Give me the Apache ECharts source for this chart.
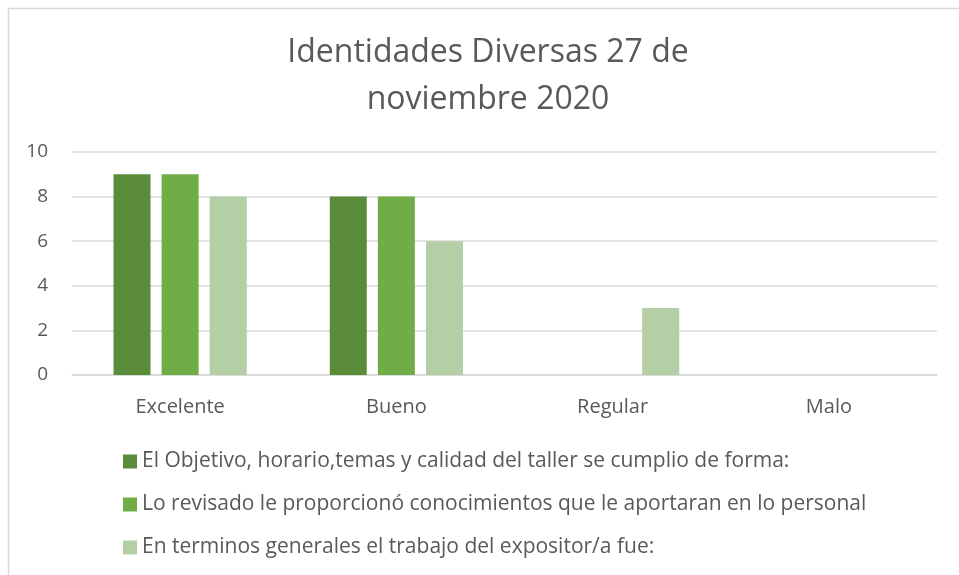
<!DOCTYPE html>
<html>
<head>
<meta charset="utf-8">
<script src="https://cdn.jsdelivr.net/npm/echarts@6/dist/echarts.min.js"></script>
<style>
  html, body { margin: 0; padding: 0; background: #fff; }
  #chart { width: 959px; height: 575px; }
</style>
</head>
<body>
<div id="chart"></div>
<script>
// datos
var categories = ['Excelente', 'Bueno', 'Regular', 'Malo']
var seriesNames = [
  'El Objetivo, horario,temas y calidad del taller se cumplio de forma:',
  'Lo revisado le proporcionó conocimientos que le aportaran en lo personal',
  'En terminos generales el trabajo del expositor/a fue:'
]
var objetivo = [9, 8, 0, 0]
var revisado = [9, 8, 0, 0]
var expositor = [8, 6, 3, 0]
var yTicks = [0, 2, 4, 6, 8, 10]
var chartTitle = 'Identidades Diversas 27 de\nnoviembre 2020'

var colors = ['#5B8C3A', '#70AD47', '#B4CEA6']
var font = 'Open Sans'

var myChart = echarts.init(document.getElementById('chart'))
var option = {
  color: colors,
  animation: false,
  textStyle: { fontFamily: font },
  graphic: [
    { // marco del grafico
      type: 'rect',
      shape: { x: 8.5, y: 8.5, width: 1000, height: 1000 },
      style: { fill: 'none', stroke: '#D9D9D9', lineWidth: 1.5 }
    },
    { // titulo
      type: 'text',
      x: 488,
      y: 29,
      style: {
        text: chartTitle,
        fill: '#595959',
        font: '32px "Open Sans"',
        lineHeight: 47,
        align: 'center',
        verticalAlign: 'top'
      }
    }
  ],
  legend: {
    orient: 'vertical',
    left: 118,
    top: 445,
    itemWidth: 14,
    itemHeight: 14,
    itemGap: 20,
    icon: 'rect',
    textStyle: { color: '#595959', fontSize: 21, lineHeight: 23, fontFamily: font, padding: [0, 0, 0, 0] },
    data: seriesNames
  },
  grid: {
    left: 72,
    right: 22,
    top: 152,
    bottom: 200
  },
  xAxis: {
    type: 'category',
    data: categories,
    axisTick: { show: false },
    axisLine: { lineStyle: { color: '#D9D9D9', width: 1.5 } },
    axisLabel: { color: '#595959', fontSize: 20, margin: 22 }
  },
  yAxis: {
    type: 'value',
    min: yTicks[0],
    max: yTicks[yTicks.length - 1],
    interval: 2,
    axisLine: { show: false },
    axisTick: { show: false },
    axisLabel: { color: '#595959', fontSize: 19, margin: 24 },
    splitLine: { lineStyle: { color: '#D9D9D9', width: 1.5 } }
  },
  series: [
    { name: seriesNames[0], type: 'bar', data: objetivo, barWidth: 37, barGap: '30%' },
    { name: seriesNames[1], type: 'bar', data: revisado, barWidth: 37, barGap: '30%' },
    { name: seriesNames[2], type: 'bar', data: expositor, barWidth: 37, barGap: '30%' }
  ]
}
myChart.setOption(option)
</script>
</body>
</html>
